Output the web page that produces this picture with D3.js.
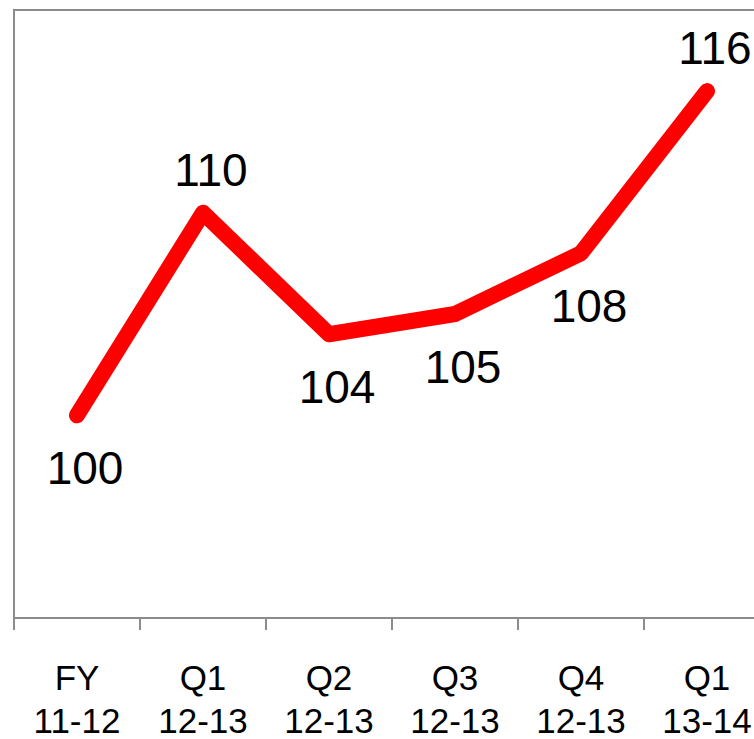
<!DOCTYPE html>
<html>
<head>
<meta charset="utf-8">
<script src="https://cdn.jsdelivr.net/npm/d3@7"></script>
<style>
  html, body { margin: 0; padding: 0; background: #fff; }
  svg { display: block; }
</style>
</head>
<body>
<svg id="chart" width="754" height="739"></svg>
<script>
// Index values by period
const periods = ["FY 11-12", "Q1 12-13", "Q2 12-13", "Q3 12-13", "Q4 12-13", "Q1 13-14"];
const periodLines = [["FY", "11-12"], ["Q1", "12-13"], ["Q2", "12-13"], ["Q3", "12-13"], ["Q4", "12-13"], ["Q1", "13-14"]];
const values = [100, 110, 104, 105, 108, 116];
const labelAbove = [false, true, false, false, false, true];
const yDomain = [90, 120];

const svg = d3.select("#chart");
const plotLeft = 14, plotTop = 10, plotBottom = 618, plotRight = 770;
const font = "'Liberation Sans', Arial, sans-serif";

const x = d3.scaleBand().domain(periods).range([plotLeft, plotRight]).paddingInner(0).paddingOuter(0);
const y = d3.scaleLinear().domain(yDomain).range([plotBottom, plotTop]);
const cx = d => x(d) + x.bandwidth() / 2;

// Plot frame
svg.append("rect")
  .attr("x", plotLeft).attr("y", plotTop)
  .attr("width", plotRight - plotLeft).attr("height", plotBottom - plotTop)
  .attr("fill", "none").attr("stroke", "#8c8c8c").attr("stroke-width", 2);

// Category axis with ticks between periods
const xAxis = svg.append("g").attr("transform", `translate(0,${plotBottom})`);
const bounds = periods.map(p => x(p)).concat([plotRight]);
xAxis.selectAll("line.tick").data(bounds).join("line")
  .attr("class", "tick")
  .attr("x1", d => d).attr("x2", d => d)
  .attr("y1", 0).attr("y2", 12)
  .attr("stroke", "#8c8c8c").attr("stroke-width", 2);

const tl = svg.append("g").selectAll("text").data(periods).join("text")
  .attr("x", d => cx(d))
  .attr("text-anchor", "middle")
  .attr("font-family", font)
  .attr("font-size", 35)
  .attr("fill", "#000");
tl.each(function(d, i) {
  const t = d3.select(this);
  periodLines[i].forEach((s, k) => {
    t.append("tspan").attr("x", cx(d)).attr("y", 690 + k * 43).text(s);
  });
});

// Series line
const line = d3.line().x((d, i) => cx(periods[i])).y(d => y(d));
svg.append("path")
  .datum(values)
  .attr("d", line)
  .attr("fill", "none")
  .attr("stroke", "#ff0000")
  .attr("stroke-width", 16)
  .attr("stroke-linecap", "round")
  .attr("stroke-linejoin", "round");

// Value labels
svg.append("g").selectAll("text").data(values).join("text")
  .attr("x", (d, i) => cx(periods[i]) + 8)
  .attr("y", (d, i) => labelAbove[i] ? y(d) - 27 : y(d) + 69)
  .attr("text-anchor", "middle")
  .attr("font-family", font)
  .attr("font-size", 46)
  .attr("fill", "#000")
  .text(d => d);
</script>
</body>
</html>
